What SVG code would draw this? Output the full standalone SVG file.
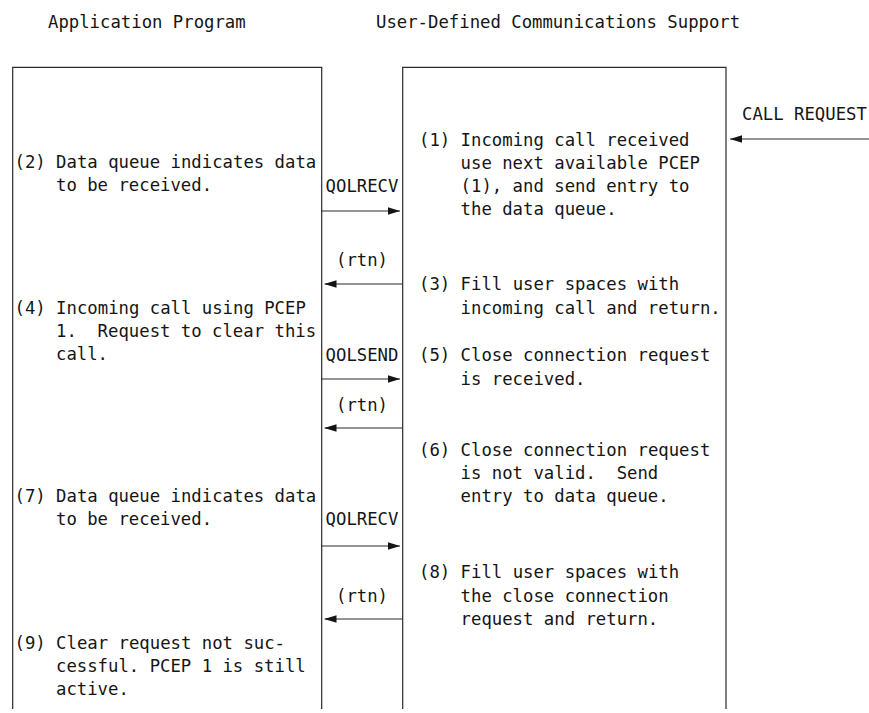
<svg xmlns="http://www.w3.org/2000/svg" width="869" height="713" viewBox="0 0 869 713">
  <style>
    text { font-family: "DejaVu Sans Mono", "Liberation Mono", monospace; font-size: 17.3px; fill: #151515; white-space: pre; }
    .box { fill: none; stroke: #2a2a2a; stroke-width: 1.2; }
    .wire { fill: none; stroke: #2a2a2a; stroke-width: 1.1; marker-end: url(#head); }
    .lbl { text-anchor: middle; }
  </style>
  <defs>
    <marker id="head" markerUnits="userSpaceOnUse" markerWidth="12" markerHeight="8" refX="12" refY="4" orient="auto">
      <path d="M0,0.3 L12,4 L0,7.7 z" fill="#151515"/>
    </marker>
  </defs>

  <rect width="869" height="713" fill="#ffffff"/>

  <!-- column headings -->
  <g id="headings">
    <text x="48" y="28">Application Program</text>
    <text x="376" y="28">User-Defined Communications Support</text>
  </g>

  <!-- application program lane (open at the bottom) -->
  <g id="app-program">
    <path class="box" d="M12.7,709 V67.3 H321.7 V709"/>
    <g id="step2">
      <text x="14.5" y="168">(2) Data queue indicates data</text>
      <text x="56" y="191">to be received.</text>
    </g>
    <g id="step4">
      <text x="14.5" y="314">(4) Incoming call using PCEP</text>
      <text x="56" y="337" xml:space="preserve">1.  Request to clear this</text>
      <text x="56" y="360">call.</text>
    </g>
    <g id="step7">
      <text x="14.5" y="502">(7) Data queue indicates data</text>
      <text x="56" y="525">to be received.</text>
    </g>
    <g id="step9">
      <text x="14.5" y="649">(9) Clear request not suc-</text>
      <text x="56" y="672">cessful. PCEP 1 is still</text>
      <text x="56" y="695">active.</text>
    </g>
  </g>

  <!-- user-defined communications support lane (open at the bottom) -->
  <g id="udc-support">
    <path class="box" d="M402.7,709 V67.3 H726 V709"/>
    <g id="step1">
      <text x="419" y="146">(1) Incoming call received</text>
      <text x="460.6" y="169">use next available PCEP</text>
      <text x="460.6" y="192">(1), and send entry to</text>
      <text x="460.6" y="215">the data queue.</text>
    </g>
    <g id="step3">
      <text x="419" y="290">(3) Fill user spaces with</text>
      <text x="460.6" y="314">incoming call and return.</text>
    </g>
    <g id="step5">
      <text x="419" y="361">(5) Close connection request</text>
      <text x="460.6" y="385">is received.</text>
    </g>
    <g id="step6">
      <text x="419" y="456">(6) Close connection request</text>
      <text x="460.6" y="479" xml:space="preserve">is not valid.  Send</text>
      <text x="460.6" y="502">entry to data queue.</text>
    </g>
    <g id="step8">
      <text x="419" y="578">(8) Fill user spaces with</text>
      <text x="460.6" y="602">the close connection</text>
      <text x="460.6" y="625">request and return.</text>
    </g>
  </g>

  <!-- calls and returns between the lanes -->
  <g id="connectors">
    <text x="742" y="120">CALL REQUEST</text>
    <line class="wire" x1="869" y1="139" x2="730" y2="139"/>

    <text class="lbl" x="362" y="192">QOLRECV</text>
    <line class="wire" x1="321.7" y1="211" x2="400" y2="211"/>

    <text class="lbl" x="362" y="266">(rtn)</text>
    <line class="wire" x1="402.7" y1="284" x2="324.5" y2="284"/>

    <text class="lbl" x="362" y="361">QOLSEND</text>
    <line class="wire" x1="321.7" y1="379" x2="400" y2="379"/>

    <text class="lbl" x="362" y="411">(rtn)</text>
    <line class="wire" x1="402.7" y1="428" x2="324.5" y2="428"/>

    <text class="lbl" x="362" y="525">QOLRECV</text>
    <line class="wire" x1="321.7" y1="546" x2="400" y2="546"/>

    <text class="lbl" x="362" y="602">(rtn)</text>
    <line class="wire" x1="402.7" y1="619" x2="324.5" y2="619"/>
  </g>
</svg>
